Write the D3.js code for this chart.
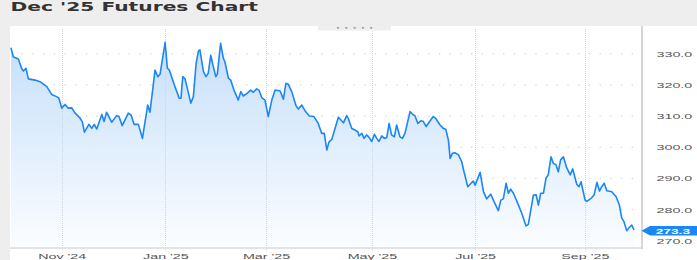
<!DOCTYPE html>
<html><head><meta charset="utf-8">
<script src="https://cdn.jsdelivr.net/npm/d3@7"></script>
<style>html,body{margin:0;padding:0;background:#eeeeee;overflow:hidden}svg{display:block}</style>
</head><body><svg id="c" width="697" height="260"></svg>
<script>
const title = "Dec '25 Futures Chart";
// x position in trading days since the first session shown
const tradingDay = [0,0.9,2.9,4.2,4.9,5.9,6.9,9.5,11.5,14.2,16.1,18.1,19.0,20.1,21.4,22.7,24.1,25.4,27.4,28.3,29.1,30.9,32.0,33.0,34.0,36.0,36.9,37.9,39.9,41.9,42.8,44.1,46.5,47.6,48.8,50.5,52.1,54.2,55.1,57.1,58.2,59.1,61.1,62.0,62.8,65.0,66.7,67.4,68.1,69.0,71.3,72.3,73.4,74.3,74.9,76.3,77.3,78.2,79.2,80.0,81.2,81.8,83.1,84.2,84.8,86.2,87.1,88.4,90.1,91.1,92.1,93.7,95.0,96.1,97.4,98.3,99.4,100.7,102.0,103.4,104.7,106.7,108.0,109.0,109.9,111.3,113.0,113.9,115.3,116.6,118.3,120.1,121.8,123.2,124.2,125.2,126.1,127.2,129.8,131.8,133.1,133.7,135.1,136.4,137.5,138.0,139.1,140.0,141.0,141.9,143.0,144.1,145.0,145.9,147.0,148.0,149.0,149.9,150.9,152.0,152.9,154.2,155.2,156.2,158.2,159.1,160.2,161.3,162.6,163.5,164.6,165.7,167.4,168.4,170.1,171.4,172.4,173.4,174.1,175.0,176.0,177.4,178.7,179.6,181.1,182.4,183.3,184.0,186.0,187.3,188.6,190.2,191.5,193.2,194.2,195.2,196.3,197.2,198.1,199.2,201.2,202.5,204.2,205.1,207.1,208.2,209.1,210.0,211.1,212.1,213.0,214.1,215.0,216.1,217.0,217.9,219.0,220.3,221.7,222.7,224.3,225.2,226.0,227.6,228.3,230.3,231.2,232.3,233.3,234.2,235.2,236.2,238.2,239.9,241.2,242.1,243.0,244.1,245.1,246.1,247.0];
const price = [331.8,328.9,328.2,325.2,324.3,325.2,321.8,321.4,320.9,319.3,316.8,316.1,315.6,312.4,313.6,312.4,312.5,310.8,309.2,307.9,304.7,307.2,305.9,307.2,305.7,310.4,308.1,311.1,307.9,310.0,309.7,306.8,310.8,310.2,307.2,307.2,302.7,313.4,311.1,324.6,322.5,323.3,333.5,325.2,324.6,319.3,315.6,315.6,322.5,321.8,314.0,316.1,326.8,330.7,331.1,324.1,322.5,323.6,329.4,326.4,322.5,323.3,333.2,328.4,327.3,322.0,321.4,318.2,315.0,317.7,316.3,317.2,318.2,317.5,318.6,318.2,315.8,315.0,309.7,315.0,318.2,317.9,315.3,320.4,320.1,317.7,313.2,312.1,313.4,311.5,309.9,309.7,307.5,304.3,304.3,299.0,301.6,302.4,309.5,307.7,310.0,309.1,305.9,305.4,304.8,303.5,304.3,302.7,303.8,303.1,301.7,304.0,302.7,301.7,303.5,302.7,303.0,307.5,303.8,303.2,307.0,303.2,302.7,304.3,311.3,310.5,309.9,307.5,308.4,308.1,306.5,307.8,309.7,309.1,307.0,305.9,305.6,302.2,296.3,297.9,298.1,297.4,295.2,292.0,287.2,288.3,289.0,287.7,291.8,285.6,283.3,284.8,282.4,279.5,282.9,283.3,288.3,285.1,286.4,285.1,281.3,278.7,274.6,275.1,284.5,284.6,281.3,285.1,285.1,289.9,291.0,296.8,294.7,294.2,292.0,295.8,296.8,293.3,291.0,292.9,288.0,287.2,288.8,282.9,282.5,283.7,284.6,288.6,285.8,287.2,288.3,285.9,285.6,284.0,281.3,277.3,276.0,273.1,274.1,274.9,273.3];
const xTickDays = [20.1, 61.2, 101.1, 143.1, 184.0, 227.5];
const xTickLabels = ["Nov '24", "Jan '25", "Mar '25", "May '25", "Jul '25", "Sep '25"];
const yTicks = [270, 280, 290, 300, 310, 320, 330];
const lastPrice = 273.3;

const SX = 1.79; // horizontal stretch of the text
const svg = d3.select("#c");
const P = {left: 10, right: 641.5, top: 26, bottom: 247.5};
const x = d3.scaleLinear().domain([0, 247]).range([11, 634]);
const y = d3.scaleLinear().domain([270, 330]).range([240.3, 53.3]);
const data = tradingDay.map((t, i) => ({t, v: price[i]}));

// white chart panel
svg.append("rect").attr("x", P.left).attr("y", P.top).attr("width", 697 - P.left).attr("height", 260 - P.top).attr("fill", "#fff");

// title
svg.append("text").attr("x", 10.5).attr("y", 11).text(title)
  .attr("font-family", "DejaVu Sans").attr("font-weight", "bold").attr("font-size", 11.5)
  .attr("fill", "#333").attr("textLength", 247.5).attr("lengthAdjust", "spacingAndGlyphs");

// gradient
const defs = svg.append("defs");
const grad = defs.append("linearGradient").attr("id", "g").attr("x1", 0).attr("y1", 0).attr("x2", 0).attr("y2", 1)
  .attr("gradientUnits", "userSpaceOnUse").attr("x1", 0).attr("x2", 0).attr("y1", P.top + 15).attr("y2", P.bottom);
grad.append("stop").attr("offset", 0).attr("stop-color", "#c6dffa");
grad.append("stop").attr("offset", 1).attr("stop-color", "#fbfdff");

// horizontal grid
svg.append("g").selectAll("line").data(yTicks).join("line")
  .attr("x1", P.left + 1).attr("x2", P.right - 2).attr("y1", d => y(d) + 0.5).attr("y2", d => y(d) + 0.5)
  .attr("stroke", "#c9c9c9").attr("stroke-width", 1).attr("stroke-dasharray", "1.3 9.4");

// area + line
svg.append("path").datum(data).attr("fill", "url(#g)")
  .attr("d", d3.area().x(d => x(d.t)).y0(P.bottom).y1(d => y(d.v)));

// vertical grid
svg.append("g").selectAll("line").data(xTickDays).join("line")
  .attr("x1", d => Math.round(x(d)) + 0.5).attr("x2", d => Math.round(x(d)) + 0.5)
  .attr("y1", P.top + 3).attr("y2", 251.5)
  .attr("stroke", "#d4d4d4").attr("stroke-width", 1).attr("stroke-dasharray", "1 1");

svg.append("path").datum(data).attr("fill", "none").attr("stroke", "#1a87f5").attr("stroke-width", 1.6)
  .attr("stroke-linejoin", "round")
  .attr("d", d3.line().x(d => x(d.t)).y(d => y(d.v)));

// frame lines
svg.append("line").attr("x1", P.left).attr("x2", P.right).attr("y1", 248).attr("y2", 248)
  .attr("stroke", "#e3e3e3").attr("stroke-width", 2);
svg.append("line").attr("x1", P.right + 0.5).attr("x2", P.right + 0.5).attr("y1", P.top).attr("y2", 249)
  .attr("stroke", "#d5d5d5").attr("stroke-width", 2);

// top handle
svg.append("rect").attr("x", 318).attr("y", P.top).attr("width", 73).attr("height", 4.5).attr("fill", "#eeeeee");
svg.append("g").selectAll("rect").data(d3.range(5)).join("rect")
  .attr("x", i => 337 + i * 8.3).attr("y", 27).attr("width", 2).attr("height", 1.6).attr("fill", "#9a9a9a");

// x axis
const xa = svg.append("g").attr("transform", `translate(0,${P.bottom})`)
  .call(d3.axisBottom(x).tickValues(xTickDays).tickFormat((d, i) => xTickLabels[i]).tickSize(0));
xa.select(".domain").remove();
xa.selectAll("text").attr("y", 11.6).attr("dy", 0)
  .attr("font-family", "Liberation Sans, Arial, sans-serif").attr("font-size", 8).attr("fill", "#555")
  .attr("transform", `scale(${SX},1)`);

// y axis
const ya = svg.append("g").attr("transform", "translate(656.5,0)")
  .call(d3.axisRight(y).tickValues(yTicks).tickFormat(d3.format(".1f")).tickSize(0));
ya.select(".domain").remove();
ya.selectAll("text").attr("x", 0).attr("dy", "0.36em").attr("text-anchor", "start")
  .attr("font-family", "Liberation Sans, Arial, sans-serif").attr("font-size", 8).attr("fill", "#555")
  .attr("transform", `scale(${SX},1)`);

// last price tag
const ly = y(lastPrice);
svg.append("path").attr("fill", "#1a87f5")
  .attr("d", `M${P.right},${ly + 0.8} L${P.right + 8.5},${ly - 3.9} L697,${ly - 3.9} L697,${ly + 5.6} L${P.right + 8.5},${ly + 5.6} Z`);
svg.append("text").attr("transform", `translate(655.7,${ly + 3.9}) scale(${SX * 0.96},1)`)
  .text(lastPrice.toFixed(1)).attr("font-family", "Liberation Sans, Arial, sans-serif")
  .attr("font-weight", "bold").attr("font-size", 8).attr("fill", "#fff");
</script>
</body></html>
